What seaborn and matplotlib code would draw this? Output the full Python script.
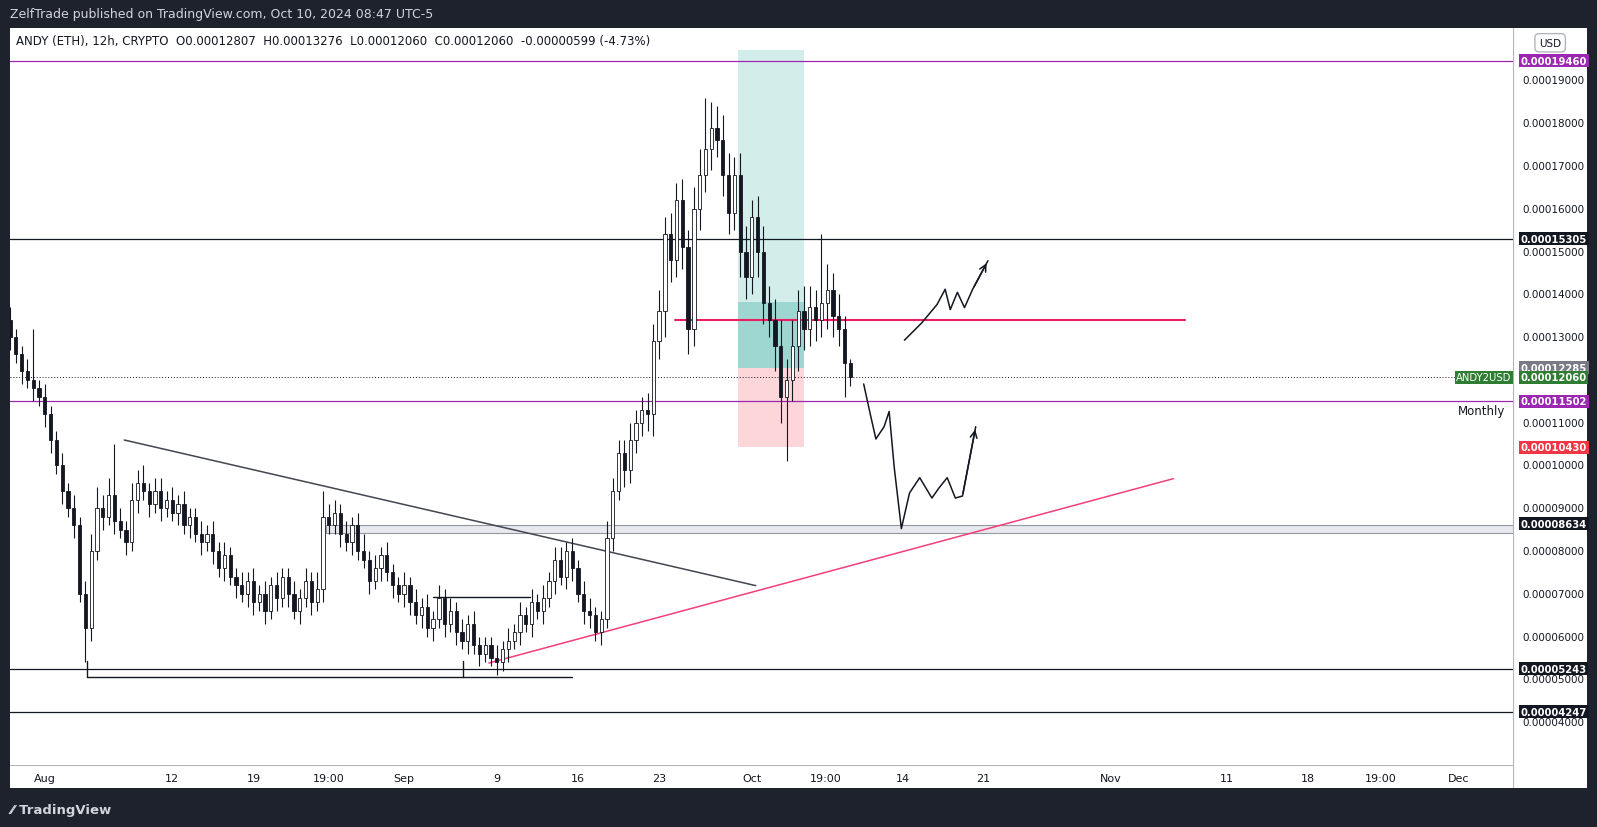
import numpy as np
import pandas as pd
import matplotlib
matplotlib.use("Agg")
import matplotlib.pyplot as plt
import seaborn as sns
from matplotlib.patches import Rectangle

sns.set_theme(style="white")
plt.rcParams["font.family"] = "DejaVu Sans"

# ---------------- data (prices in units of 1e-5 ETH) ----------------
closes = [13.0,12.6,12.2,12.0,11.8,11.6,11.2,10.6,10.0,9.4,9.0,8.6,7.0,6.2,
          8.0,9.0,8.8,9.3,8.7,8.5,8.2,9.2,9.6,9.4,9.1,9.4,9.0,9.2,
          8.9,9.1,8.6,8.8,8.4,8.2,8.4,8.0,7.6,7.9,7.4,7.2,7.0,7.3,
          6.8,7.0,6.6,7.2,6.9,7.4,7.0,6.6,6.9,7.3,6.8,7.1,8.8,8.6,
          8.9,8.4,8.2,8.6,8.0,7.8,7.3,7.6,7.9,7.5,7.2,7.0,7.2,
          6.8,6.5,6.7,6.2,6.4,6.9,6.3,6.6,6.1,5.9,6.3,5.8,5.6,5.8,
          5.5,5.4,5.7,5.9,6.1,6.5,6.3,6.8,6.6,6.9,7.3,7.8,7.4,8.0,
          7.6,7.0,6.6,6.5,6.1,6.4,8.3,9.4,10.3,9.9,10.6,11.0,11.3,
          11.2,12.9,13.6,15.4,14.8,16.2,15.1,13.2,16.0,16.8,17.4,17.9,17.6,16.8,
          15.9,16.8,15.0,14.4,15.8,15.0,13.8,13.4,12.8,11.6,12.0,12.8,13.6,13.2,
          13.7,13.4,13.8,14.1,13.5,13.2,12.4,12.06]
first_open = 13.4
wick_up = [0.3,0.2,0.2,0.3,1.2,0.2,0.3,0.2,0.2,0.3,0.2,0.3,0.2,0.3,
           0.4,0.5,0.3,0.4,1.2,0.3,0.2,0.4,0.3,0.4,0.2,0.3,0.3,0.2,
           0.3,0.2,0.3,0.2,0.2,0.3,0.2,0.3,0.2,0.3,0.2,0.2,0.3,0.2,
           0.3,0.2,0.3,0.2,0.3,0.2,0.2,0.3,0.2,0.3,0.2,0.4,0.6,0.3,
           0.3,0.2,0.3,0.2,0.3,0.4,0.2,0.3,0.2,0.3,0.2,0.2,0.3,
           0.2,0.3,0.2,0.3,0.2,0.3,0.2,0.3,0.2,0.3,0.2,0.3,0.2,0.2,
           0.2,0.3,0.2,0.3,0.2,0.3,0.2,0.3,0.2,0.3,0.2,0.3,0.3,0.2,
           0.3,0.2,0.3,0.3,0.2,0.2,0.4,0.3,0.3,0.3,0.4,0.3,0.3,
           0.4,0.4,0.5,0.4,0.5,0.4,0.5,0.4,0.5,0.6,1.2,0.6,0.5,0.6,
           0.5,0.4,0.5,0.6,0.4,0.5,0.6,0.4,0.5,0.6,0.5,0.6,0.5,0.6,
           0.5,0.4,1.6,0.6,0.4,0.5,0.3,0.1]
wick_dn = [0.3,0.2,0.3,0.2,0.3,0.2,0.3,0.3,0.2,0.3,0.2,0.3,0.2,0.8,
           0.3,0.2,0.3,0.2,0.3,0.2,0.3,0.2,0.3,0.2,0.3,0.2,0.3,0.2,
           0.2,0.3,0.2,0.3,0.2,0.3,0.2,0.3,0.2,0.3,0.2,0.3,0.2,0.3,
           0.3,0.2,0.3,0.2,0.3,0.2,0.3,0.2,0.3,0.2,0.3,0.2,0.3,0.2,
           0.2,0.3,0.2,0.3,0.2,0.2,0.3,0.2,0.3,0.2,0.3,0.2,0.3,
           0.3,0.2,0.3,0.2,0.3,0.2,0.3,0.2,0.3,0.2,0.3,0.2,0.3,0.2,
           0.2,0.3,0.2,0.3,0.2,0.3,0.2,0.3,0.2,0.3,0.2,0.3,0.2,0.3,
           0.3,0.2,0.3,0.3,0.2,0.3,0.2,0.3,0.2,0.4,0.3,0.3,0.3,
           0.4,0.5,0.4,0.6,0.5,0.4,0.5,0.6,0.4,0.5,0.4,0.5,0.4,0.5,
           0.5,0.4,0.6,0.5,0.4,0.6,0.5,0.4,0.6,0.6,1.5,0.5,0.6,0.5,
           0.4,0.5,0.4,0.6,0.5,0.4,0.8,0.2]

tick_days = [0, 11, 18, 24.5, 31, 39, 46, 53, 61, 67.4, 74, 81, 92, 102, 109, 115.3, 122]
tick_labels = ["Aug", "12", "19", "19:00", "Sep", "9", "16", "23", "Oct", "19:00",
               "14", "21", "Nov", "11", "18", "19:00", "Dec"]
price_ticks = [4, 5, 6, 7, 8, 9, 10, 11, 12, 13, 14, 15, 16, 17, 18, 19]
levels = {"purple_top": 19.460, "black_hi": 15.305, "last": 12.060, "prev": 12.285,
          "monthly": 11.502, "stop": 10.430, "zone": 8.634, "black_lo": 5.243, "black_lo2": 4.247}

# ---------------- layout helpers (screen pixel -> data) ----------------
W, H = 1568.0, 813.0
def px_day(x): return (x - 44) / 11.38
def py_price(y): return 19 - (y - 80) / 42.0

fig = plt.figure(figsize=(15.97, 8.28), dpi=100)
fig.patch.set_facecolor("#1e222d")
ax = fig.add_axes([10/W, 1-752/H, (1486-10)/W, (752-28)/H])
ax.set_facecolor("white")
ax.set_xlim(px_day(10), px_day(1486))
ax.set_ylim(py_price(752), py_price(28))

pax = fig.add_axes([1486/W, 1-775/H, (1558-1486)/W, (775-28)/H])
pax.set_facecolor("white"); pax.set_xticks([]); pax.set_yticks([])
for s in pax.spines.values(): s.set_visible(False)
pax.set_xlim(0, 1); pax.set_ylim(py_price(775), py_price(28))
pax.axvline(0, color="#b2b5be", lw=0.8)
dax = fig.add_axes([10/W, 1-775/H, (1486-10)/W, 23/H])
dax.set_facecolor("white"); dax.set_yticks([])
for s in dax.spines.values(): s.set_visible(False)
dax.set_xlim(ax.get_xlim()); dax.set_ylim(0, 1)
dax.axhline(1, color="#b2b5be", lw=0.8)
for d, l in zip(tick_days, tick_labels):
    dax.text(d, 0.45, l, ha="center", va="center", fontsize=8, color="#131722")
dax.set_xticks([])
ax.set_xticks([]); ax.set_yticks([])
for s in ax.spines.values(): s.set_visible(False)

# ---------------- candles ----------------
n = len(closes)
opens = [first_open] + closes[:-1]
days = [-3 + 0.5 * i for i in range(n)]
df = pd.DataFrame({"day": days, "open": opens, "close": closes})
df["high"] = np.maximum(df.open, df.close) + np.array(wick_up[:n])
df["low"] = np.minimum(df.open, df.close) - np.array(wick_dn[:n])
ax.vlines(df.day, df.low, df.high, color="#131722", lw=0.8, zorder=3)
for _, r in df.iterrows():
    up = r.close >= r.open
    b = min(r.open, r.close); h = max(abs(r.close - r.open), 0.03)
    ax.add_patch(Rectangle((r.day - 0.14, b), 0.28, h, facecolor="white" if up else "#131722",
                           edgecolor="#131722", lw=0.6, zorder=4))

# ---------------- horizontal levels ----------------
ax.axhline(levels["purple_top"], color="#9c27b0", lw=0.9)
ax.axhline(levels["black_hi"], color="#131722", lw=0.9)
ax.axhline(levels["monthly"], color="#9c27b0", lw=0.9)
ax.axhline(levels["black_lo"], color="#131722", lw=0.9)
ax.axhline(levels["black_lo2"], color="#131722", lw=0.9)
ax.axhline(levels["last"], color="#131722", lw=0.7, ls=(0, (1, 2)))
ax.text(px_day(1478), py_price(404), "Monthly", ha="right", va="center", fontsize=8.5, color="#131722")
ax.add_patch(Rectangle((px_day(320), py_price(524)), px_day(1486) - px_day(320),
                       py_price(516) - py_price(524), facecolor="#e7e9ef", edgecolor="#9598a1", lw=0.8, zorder=1))

# position tool
ax.add_patch(Rectangle((px_day(725), py_price(362)), px_day(789) - px_day(725), py_price(50) - py_price(362),
                       facecolor="#26a69a", alpha=0.2, lw=0, zorder=1))
ax.add_patch(Rectangle((px_day(725), py_price(362)), px_day(789) - px_day(725), py_price(298) - py_price(362),
                       facecolor="#26a69a", alpha=0.3, lw=0, zorder=1))
ax.add_patch(Rectangle((px_day(725), py_price(440)), px_day(789) - px_day(725), py_price(362) - py_price(440),
                       facecolor="#f23645", alpha=0.2, lw=0, zorder=1))

def seg(x0, y0, x1, y1, color, lw=1.0):
    d = pd.DataFrame({"x": [px_day(x0), px_day(x1)], "y": [py_price(y0), py_price(y1)]})
    sns.lineplot(data=d, x="x", y="y", color=color, lw=lw, ax=ax, sort=False, estimator=None)

seg(663, 315, 1163, 315, "#e91e63", 1.5)
seg(480, 652, 1152, 471, "#f23f7a", 1.1)
seg(122, 433, 742, 576, "#434651", 1.1)
seg(85, 666, 562, 666, "#131722", 1.0)
seg(85, 650, 85, 666, "#131722", 1.0)
seg(455, 650, 455, 666, "#131722", 1.0)
seg(425, 587, 520, 587, "#131722", 1.0)
ax.set_xlabel(""); ax.set_ylabel("")

# hand drawn paths
up_path = [(888, 335), (905, 318), (920, 300), (928, 285), (933, 305), (940, 288), (947, 303), (955, 285), (970, 257)]
dn_path = [(848, 378), (855, 410), (860, 432), (868, 420), (873, 405), (878, 460), (885, 520), (893, 485),
           (903, 470), (915, 490), (922, 480), (930, 470), (938, 490), (945, 488), (958, 420)]
for path in (up_path, dn_path):
    xs = [px_day(p[0]) for p in path]; ys = [py_price(p[1]) for p in path]
    ax.plot(xs, ys, color="#131722", lw=1.1)
    ax.annotate("", xy=(xs[-1], ys[-1]), xytext=(xs[-2], ys[-2]),
                arrowprops=dict(arrowstyle="->", color="#131722", lw=1.1))

# ---------------- price axis ----------------
for p in price_ticks:
    pax.text(0.12, p, f"{p*1e-5:.8f}", va="center", ha="left", fontsize=7.5, color="#131722")
tags = [(levels["purple_top"], "#9c27b0"), (levels["black_hi"], "#131722"), (levels["prev"], "#787b86"),
        (levels["last"], "#2e7d32"), (levels["monthly"], "#9c27b0"), (levels["stop"], "#f23645"),
        (levels["zone"], "#131722"), (levels["black_lo"], "#131722"), (levels["black_lo2"], "#131722")]
for v, c in tags:
    pax.text(0.1, v, f"{v*1e-5:.8f}", va="center", ha="left", fontsize=7.2, color="white", fontweight="bold",
             bbox=dict(boxstyle="square,pad=0.15", facecolor=c, edgecolor="none"), zorder=5)
ax.text(px_day(1484), levels["last"], "ANDY2USD", ha="right", va="center", fontsize=7.2, color="white",
        bbox=dict(boxstyle="square,pad=0.15", facecolor="#2e7d32", edgecolor="none"), zorder=6)
pax.text(0.5, py_price(43), "USD", ha="center", va="center", fontsize=7.5, color="#131722",
         bbox=dict(boxstyle="round,pad=0.4", facecolor="white", edgecolor="#b2b5be"))

# ---------------- titles ----------------
fig.text(10/W, 1-14/H, "ZelfTrade published on TradingView.com, Oct 10, 2024 08:47 UTC-5",
         color="#d1d4dc", fontsize=9, va="center", ha="left")
ax.text(px_day(16), py_price(41), "ANDY (ETH), 12h, CRYPTO  O0.00012807  H0.00013276  L0.00012060  C0.00012060  -0.00000599 (-4.73%)",
        fontsize=8.5, color="#131722", va="center", ha="left")
fig.text(10/W, 1-796/H, "⁄⁄ TradingView", color="#d1d4dc", fontsize=9.5, va="center", ha="left", fontweight="bold")

fig.savefig("out.png", dpi=100, facecolor=fig.get_facecolor())
